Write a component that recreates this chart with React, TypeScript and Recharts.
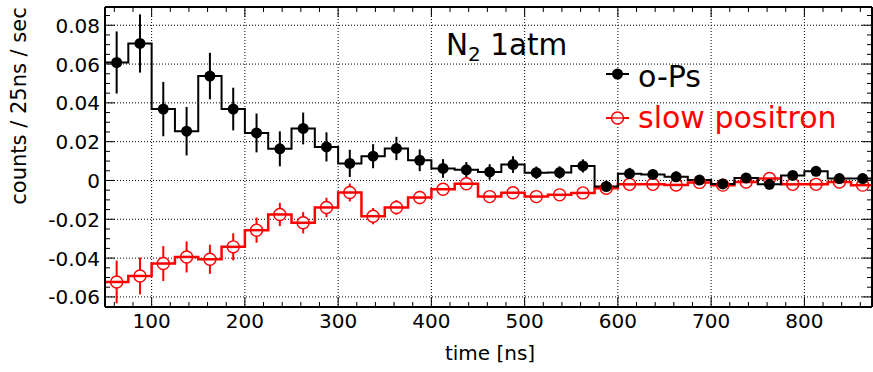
import React from 'react';
import { ComposedChart, Line, Scatter, ErrorBar, XAxis, YAxis, CartesianGrid } from 'recharts';

// 25 ns bins, centre of each bin
const binCenters = [
  62.5, 87.5, 112.5, 137.5, 162.5, 187.5, 212.5, 237.5, 262.5, 287.5, 312.5,
  337.5, 362.5, 387.5, 412.5, 437.5, 462.5, 487.5, 512.5, 537.5, 562.5, 587.5,
  612.5, 637.5, 662.5, 687.5, 712.5, 737.5, 762.5, 787.5, 812.5, 837.5, 862.5,
];

const opsValues = [
  0.0608, 0.0706, 0.0368, 0.0254, 0.0538, 0.0368, 0.0245, 0.0163, 0.0268, 0.0173, 0.0088,
  0.0125, 0.0165, 0.0104, 0.0062, 0.0055, 0.0044, 0.0082, 0.004, 0.0041, 0.0075, -0.0031,
  0.0035, 0.0031, 0.0019, 0.0002, -0.0018, 0.0013, -0.002, 0.0026, 0.0047, 0.001, 0.001,
];
const opsErrors = [
  0.016, 0.015, 0.014, 0.0125, 0.012, 0.011, 0.01, 0.009, 0.0082, 0.0075, 0.007,
  0.0062, 0.006, 0.0056, 0.0048, 0.004, 0.004, 0.0043, 0.0032, 0.0032, 0.0034, 0.003,
  0.003, 0.0028, 0.0028, 0.0026, 0.0026, 0.0025, 0.0025, 0.0024, 0.0024, 0.0023, 0.0023,
];

const slowValues = [
  -0.0523, -0.0492, -0.0428, -0.0394, -0.0406, -0.0342, -0.0256, -0.0175, -0.0218, -0.0139, -0.0062,
  -0.0184, -0.0139, -0.0088, -0.0045, -0.0017, -0.0083, -0.0063, -0.0083, -0.0074, -0.0064, -0.004,
  -0.002, -0.002, -0.0023, -0.001, -0.0024, -0.0008, 0.001, -0.002, -0.002, -0.0008, -0.0024,
];
const slowErrors = [
  0.011, 0.0095, 0.009, 0.008, 0.0075, 0.007, 0.0065, 0.006, 0.0055, 0.005, 0.0046,
  0.0042, 0.0038, 0.0035, 0.003, 0.003, 0.0028, 0.0026, 0.0026, 0.0025, 0.0025, 0.0024,
  0.0024, 0.0023, 0.0023, 0.0022, 0.0022, 0.0021, 0.0021, 0.002, 0.002, 0.002, 0.002,
];

const xMajorTicks = [100, 200, 300, 400, 500, 600, 700, 800];
const yMajorTicks = [-0.06, -0.04, -0.02, 0, 0.02, 0.04, 0.06, 0.08];

const BIN = 25;
const X_DOMAIN: [number, number] = [50, 872.5];
const Y_DOMAIN: [number, number] = [-0.0652, 0.0894];

// minor ticks every 20 ns / every 0.005
const xAllTicks: number[] = [];
for (let v = 60; v <= 872; v += 20) xAllTicks.push(v);
const yAllTicks: number[] = [];
for (let k = -13; k <= 17; k++) yAllTicks.push(k * 5 / 1000);

const isMajorX = (v: number) => v % 100 === 0;
const isMajorY = (v: number) => Math.round(v * 1000) % 20 === 0;

const FONT = '"DejaVu Sans", sans-serif';
const RED = '#ff0000';

const toSteps = (vals: number[]) =>
  binCenters.flatMap((c, i) => [
    { x: c - BIN / 2, y: vals[i] },
    { x: c + BIN / 2, y: vals[i] },
  ]);

const toPoints = (vals: number[], errs: number[]) =>
  binCenters.map((c, i) => ({ x: c, y: vals[i], err: errs[i] }));

const opsSteps = toSteps(opsValues);
const slowSteps = toSteps(slowValues);
const opsPoints = toPoints(opsValues, opsErrors);
const slowPoints = toPoints(slowValues, slowErrors);

const BottomTick = (props: any) => {
  const { x, y, payload } = props;
  const major = isMajorX(payload.value);
  return (
    <g>
      <line x1={x} x2={x} y1={y} y2={y - (major ? 10 : 5)} stroke="#000" strokeWidth={1} />
      {major && (
        <text x={x} y={y + 21} textAnchor="middle" fontFamily={FONT} fontSize={20} fill="#000">
          {payload.value}
        </text>
      )}
    </g>
  );
};

const TopTick = (props: any) => {
  const { x, y, payload } = props;
  const major = isMajorX(payload.value);
  return <line x1={x} x2={x} y1={y} y2={y + (major ? 10 : 5)} stroke="#000" strokeWidth={1} />;
};

const LeftTick = (props: any) => {
  const { x, y, payload } = props;
  const major = isMajorY(payload.value);
  return (
    <g>
      <line x1={x} x2={x + (major ? 10 : 5)} y1={y} y2={y} stroke="#000" strokeWidth={1} />
      {major && (
        <text x={x - 5} y={y + 7.5} textAnchor="end" fontFamily={FONT} fontSize={20} fill="#000">
          {String(Number(payload.value.toFixed(2)))}
        </text>
      )}
    </g>
  );
};

const RightTick = (props: any) => {
  const { x, y, payload } = props;
  const major = isMajorY(payload.value);
  return <line x1={x} x2={x - (major ? 10 : 5)} y1={y} y2={y} stroke="#000" strokeWidth={1} />;
};

// hollow marker: error bar hidden inside, step line still passes through
const OpenCircle = (p: any) => (
  <g>
    <circle cx={p.cx} cy={p.cy} r={6} fill="#fff" />
    <line x1={p.cx - 6} x2={p.cx + 6} y1={p.cy} y2={p.cy} stroke={RED} strokeWidth={2.5} />
    <circle cx={p.cx} cy={p.cy} r={6} fill="none" stroke={RED} strokeWidth={1.4} />
  </g>
);

const axisLine = { stroke: '#000', strokeWidth: 2 };

export default function App() {
  return (
    <div style={{ position: 'absolute', left: 0, top: 0, width: 873, height: 372, background: '#fff' }}>
      <ComposedChart width={873} height={372} margin={{ top: 0, right: 0, bottom: 0, left: 0 }}>
        <CartesianGrid
          verticalValues={xMajorTicks}
          horizontalValues={yMajorTicks}
          stroke="#000"
          strokeDasharray="1 2"
        />
        <XAxis
          dataKey="x"
          type="number"
          domain={X_DOMAIN}
          allowDataOverflow
          ticks={xAllTicks}
          interval={0}
          height={65}
          tickSize={0}
          tickMargin={0}
          tickLine={false}
          axisLine={axisLine}
          tick={<BottomTick />}
        />
        <XAxis
          xAxisId="top"
          orientation="top"
          dataKey="x"
          type="number"
          domain={X_DOMAIN}
          allowDataOverflow
          ticks={xAllTicks}
          interval={0}
          height={7}
          tickSize={0}
          tickMargin={0}
          tickLine={false}
          axisLine={axisLine}
          tick={<TopTick />}
        />
        <YAxis
          dataKey="y"
          type="number"
          domain={Y_DOMAIN}
          allowDataOverflow
          ticks={yAllTicks}
          interval={0}
          width={105}
          tickSize={0}
          tickMargin={0}
          tickLine={false}
          axisLine={axisLine}
          tick={<LeftTick />}
        />
        <YAxis
          yAxisId="right"
          orientation="right"
          dataKey="y"
          type="number"
          domain={Y_DOMAIN}
          allowDataOverflow
          ticks={yAllTicks}
          interval={0}
          width={1}
          tickSize={0}
          tickMargin={0}
          tickLine={false}
          axisLine={axisLine}
          tick={<RightTick />}
        />

        <Line
          data={slowSteps}
          dataKey="y"
          type="linear"
          stroke={RED}
          strokeWidth={2.5}
          dot={false}
          activeDot={false}
          isAnimationActive={false}
        />
        <Scatter data={slowPoints} dataKey="y" isAnimationActive={false} shape={<OpenCircle />}>
          <ErrorBar dataKey="err" direction="y" width={0} stroke={RED} strokeWidth={2} />
        </Scatter>

        <Line
          data={opsSteps}
          dataKey="y"
          type="linear"
          stroke="#000"
          strokeWidth={2}
          dot={false}
          activeDot={false}
          isAnimationActive={false}
        />
        <Scatter
          data={opsPoints}
          dataKey="y"
          isAnimationActive={false}
          shape={(p: any) => <circle cx={p.cx} cy={p.cy} r={5.5} fill="#000" />}
        >
          <ErrorBar dataKey="err" direction="y" width={0} stroke="#000" strokeWidth={2} />
        </Scatter>
      </ComposedChart>

      <svg
        width={873}
        height={372}
        style={{ position: 'absolute', left: 0, top: 0, pointerEvents: 'none' }}
        fontFamily={FONT}
      >
        <text x={446} y={55} fontSize={29.5} fill="#000">
          N<tspan fontSize={20} dy={6}>2</tspan>
          <tspan dy={-6}> 1atm</tspan>
        </text>

        <line x1={606} x2={629} y1={74} y2={74} stroke="#000" strokeWidth={2} />
        <circle cx={617.5} cy={74} r={5.5} fill="#000" />
        <text x={638} y={87} fontSize={30} fill="#000">o-Ps</text>

        <line x1={606} x2={629} y1={118} y2={118} stroke={RED} strokeWidth={2} />
        <circle cx={617.5} cy={118} r={6} fill="#fff" stroke={RED} strokeWidth={1.4} />
        <line x1={611.5} x2={623.5} y1={118} y2={118} stroke={RED} strokeWidth={1.4} />
        <text x={638} y={128} fontSize={30} fill={RED}>slow positron</text>

        <text x={490} y={360} textAnchor="middle" fontSize={20} fill="#000">time [ns]</text>
        <text
          x={0}
          y={0}
          transform="translate(26 106) rotate(-90)"
          textAnchor="middle"
          fontSize={21}
          fill="#000"
        >
          counts / 25ns / sec
        </text>
      </svg>
    </div>
  );
}
